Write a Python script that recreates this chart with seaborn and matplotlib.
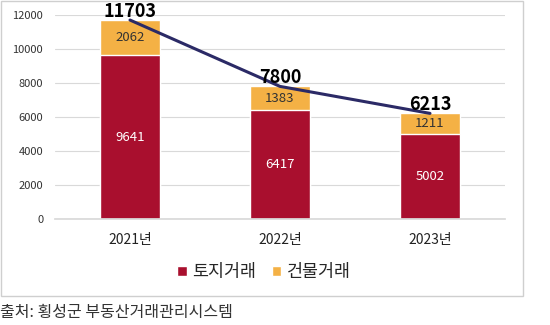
import matplotlib
matplotlib.use("Agg")
import matplotlib.pyplot as plt
import seaborn as sns
import pandas as pd
from matplotlib.patches import Rectangle

years = ["2021년", "2022년", "2023년"]
land = [9641, 6417, 5002]
building = [2062, 1383, 1211]
totals = [11703, 7800, 6213]
yticks = [0, 2000, 4000, 6000, 8000, 10000, 12000]

sns.set_theme(style="white")
plt.rcParams['font.family'] = ['Noto Sans CJK KR', 'DejaVu Sans']

W, H = 550, 325
fig = plt.figure(figsize=(W/100, H/100), dpi=100)
ax = fig.add_axes([55/W, 1-219/H, 450/W, 204/H])

red = "#A90F2E"
orange = "#F4B145"
navy = "#2B2A66"

df = pd.DataFrame({"year": years, "land": land, "building": building, "total": totals})
sns.barplot(data=df, x="year", y="total", color=orange, width=0.4, ax=ax,
            saturation=1, label="건물거래")
sns.barplot(data=df, x="year", y="land", color=red, width=0.4, ax=ax,
            saturation=1, label="토지거래")
sns.lineplot(x=[0, 1, 2], y=totals, color=navy, lw=2.2, ax=ax, legend=False)

for i in range(3):
    ax.text(i, land[i]/2, str(land[i]), ha="center", va="center", color="white", fontsize=9.5)
    ax.text(i, land[i] + building[i]/2, str(building[i]), ha="center", va="center",
            color="#333333", fontsize=9.5)
    ax.text(i, totals[i] - 60, str(totals[i]), ha="center", va="bottom", color="black",
            fontsize=13, fontweight="bold")

ax.set_xlim(-0.5, 2.5)
ax.set_ylim(0, 12000)
ax.set_yticks(yticks)
ax.set_yticklabels([str(v) for v in yticks], fontsize=8, color="#333333")
ax.set_xticklabels(years, fontsize=10, color="#222222")
ax.set_xlabel("")
ax.set_ylabel("")
ax.yaxis.grid(True, color="#D9D9D9", lw=0.8)
ax.set_axisbelow(True)
for s in ["top", "right", "left"]:
    ax.spines[s].set_visible(False)
ax.spines["bottom"].set_color("#D9D9D9")
ax.tick_params(axis="both", length=0)
ax.tick_params(axis="x", pad=10)
ax.tick_params(axis="y", pad=8.5)

handles, labels = ax.get_legend_handles_labels()
order = [labels.index("토지거래"), labels.index("건물거래")]
fig.legend([handles[k] for k in order], [labels[k] for k in order],
           loc="center", bbox_to_anchor=(264/W, 1-272/H), ncol=2, frameon=False,
           fontsize=12.5, handlelength=0.55, handleheight=0.55, columnspacing=0.9,
           handletextpad=0.3)
if ax.get_legend():
    ax.get_legend().remove()

fig.patches.append(Rectangle((1/W, 1-296/H), 522/W, 295/H, transform=fig.transFigure,
                             fill=False, edgecolor="#CFCFCF", lw=1))
fig.text(0/W, 1-313/H, "출처: 횡성군 부동산거래관리시스템", ha="left", va="center",
         fontsize=11.5, color="#333333")

fig.savefig("out.png", dpi=100)
